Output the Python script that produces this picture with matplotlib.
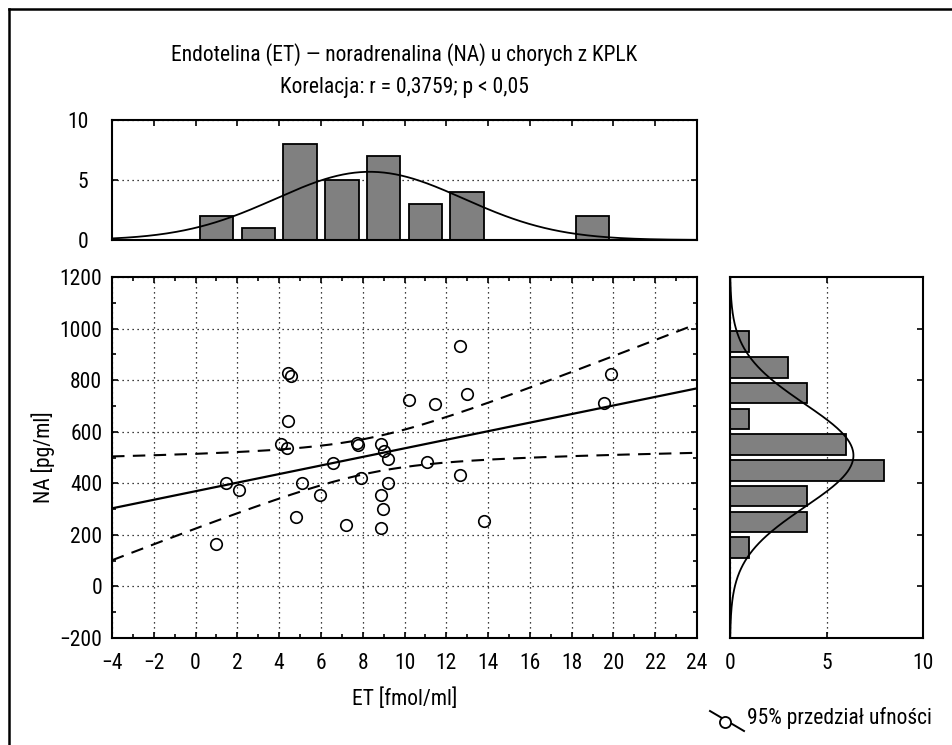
import numpy as np
import matplotlib
matplotlib.use("Agg")
import matplotlib.pyplot as plt
from matplotlib.lines import Line2D
from matplotlib.ticker import MultipleLocator
from matplotlib import font_manager as fm

# ---------------- data ----------------
et = [1.0, 1.45, 2.09, 4.09, 4.36, 4.4, 4.4, 4.58, 4.8, 5.09, 5.96, 6.56,
      7.2, 7.71, 7.76, 7.9, 8.88, 9.04, 9.2, 9.22, 8.88, 8.99, 8.88, 10.2,
      11.44, 11.07, 12.68, 13.0, 12.68, 13.79, 19.54, 19.9]
na = [164, 403, 373, 552, 538, 643, 826, 815, 269, 403, 354, 478,
      238, 557, 549, 422, 552, 527, 493, 403, 354, 301, 225, 724,
      707, 484, 932, 746, 432, 254, 710, 823]
et_bin_edges = [-4, -2, 0, 2, 4, 6, 8, 10, 12, 14, 16, 18, 20, 22, 24]
na_bin_edges = [0, 100, 200, 300, 400, 500, 600, 700, 800, 900, 1000, 1100]
t_crit = 2.042  # t(0.975, df=30)

title1 = "Endotelina (ET) — noradrenalina (NA) u chorych z KPLK"
title2 = "Korelacja: r = 0,3759; p < 0,05"
xlabel = "ET [fmol/ml]"
ylabel = "NA [pg/ml]"
legend_text = "95% przedział ufności"

# ---------- font choice: prefer a condensed sans ----------
fams = {f.name for f in fm.fontManager.ttflist}
cond = [f for f in fm.fontManager.ttflist
        if str(f.stretch) in ('condensed', 'semi-condensed', '75', '87.5')
        and ('Sans' in f.name or 'Roboto' in f.name or 'Lato' in f.name)]
FS = 15.5
chosen = None
for nm in ['Liberation Sans Narrow', 'Roboto Condensed', 'Open Sans Condensed',
           'DejaVu Sans Condensed', 'Noto Sans Condensed', 'Arial Narrow']:
    if nm in fams:
        chosen = nm
        break
if chosen:
    plt.rcParams['font.family'] = [chosen, 'DejaVu Sans']
elif cond:
    plt.rcParams['font.family'] = [cond[0].name, 'DejaVu Sans']
    plt.rcParams['font.stretch'] = 'condensed'
else:
    plt.rcParams['font.family'] = ['Liberation Sans', 'DejaVu Sans']
    FS = 13.5

et = np.array(et)
na = np.array(na)

W, H = 952, 745
fig = plt.figure(figsize=(W / 100, H / 100), dpi=100)

def ax_px(l, t, r, b):
    return fig.add_axes([l / W, 1 - b / H, (r - l) / W, (b - t) / H])

GRAY = '#808080'
DOT = (0, (1, 3))

# ---------- scatter ----------
ax = ax_px(112, 277, 697, 638)
ax.xaxis.set_major_locator(MultipleLocator(2))
ax.xaxis.set_minor_locator(MultipleLocator(1))
ax.yaxis.set_major_locator(MultipleLocator(200))
ax.yaxis.set_minor_locator(MultipleLocator(100))
ax.grid(True, which='major', linestyle=DOT, color='black', linewidth=0.9)
ax.tick_params(which='both', direction='in', top=True, right=True, labelsize=FS, width=1.2)
ax.tick_params(which='major', length=4)
ax.tick_params(which='minor', length=3)
ax.tick_params(axis='x', pad=11)
ax.tick_params(axis='y', pad=7)
ax.set_axisbelow(True)
for s in ax.spines.values():
    s.set_linewidth(1.5)

# regression + confidence band
slope, intercept = np.polyfit(et, na, 1)
xs = np.linspace(-4, 24, 200)
yfit = intercept + slope * xs
n = len(et)
resid = na - (intercept + slope * et)
s = np.sqrt(np.sum(resid ** 2) / (n - 2))
sxx = np.sum((et - et.mean()) ** 2)
half = t_crit * s * np.sqrt(1 / n + (xs - et.mean()) ** 2 / sxx)
ax.plot(xs, yfit, color='black', lw=1.6)
ax.plot(xs, yfit + half, color='black', lw=1.5, linestyle=(0, (6, 4)))
ax.plot(xs, yfit - half, color='black', lw=1.5, linestyle=(0, (6, 4)))
ax.plot(et, na, linestyle='none', marker='o', ms=8.3, mfc='none', mec='black', mew=1.2)
ax.set_xlim(-4, 24)
ax.set_ylim(-200, 1200)

ax.set_xlabel(xlabel, fontsize=FS, labelpad=10)
ax.set_ylabel(ylabel, fontsize=FS, labelpad=3)

# ---------- top histogram ----------
axt = ax_px(112, 120, 697, 240)
counts_et, _ = np.histogram(et, bins=et_bin_edges)
centers_et = (np.array(et_bin_edges[:-1]) + np.array(et_bin_edges[1:])) / 2
nz = counts_et > 0
axt.bar(centers_et[nz], counts_et[nz], width=1.6, color=GRAY, edgecolor='black', linewidth=1.3, zorder=2)
bw = 2
g = np.linspace(-4, 24, 300)
mu, sd = et.mean(), et.std(ddof=1)
axt.plot(g, n * bw * np.exp(-0.5 * ((g - mu) / sd) ** 2) / (sd * np.sqrt(2 * np.pi)),
         color='black', lw=1.3, zorder=3)
axt.set_xlim(-4, 24)
axt.set_ylim(0, 10)
axt.set_yticks([0, 5, 10])
axt.yaxis.grid(True, linestyle=DOT, color='black', linewidth=0.9)
axt.set_axisbelow(True)
axt.xaxis.set_major_locator(MultipleLocator(2))
axt.tick_params(axis='x', direction='in', top=True, bottom=False, labelbottom=False, length=4, width=1.2)
axt.tick_params(axis='y', direction='in', right=True, length=4, width=1.2, labelsize=FS, pad=17)
for s_ in axt.spines.values():
    s_.set_linewidth(1.5)

# ---------- right histogram ----------
axr = ax_px(730, 277, 923, 638)
counts_na, _ = np.histogram(na, bins=na_bin_edges)
centers_na = (np.array(na_bin_edges[:-1]) + np.array(na_bin_edges[1:])) / 2
nz = counts_na > 0
axr.barh(centers_na[nz], counts_na[nz], height=80, color=GRAY, edgecolor='black', linewidth=1.3, zorder=2)
bwn = 100
gy = np.linspace(-200, 1200, 400)
mun, sdn = na.mean(), na.std(ddof=1)
axr.plot(n * bwn * np.exp(-0.5 * ((gy - mun) / sdn) ** 2) / (sdn * np.sqrt(2 * np.pi)), gy,
         color='black', lw=1.3, zorder=3)
axr.set_ylim(-200, 1200)
axr.set_xlim(0, 10)
axr.set_xticks([0, 5, 10])
axr.xaxis.grid(True, linestyle=DOT, color='black', linewidth=0.9)
axr.set_axisbelow(True)
axr.yaxis.set_major_locator(MultipleLocator(200))
axr.tick_params(axis='y', direction='in', right=True, left=False, labelleft=False, length=4, width=1.2)
axr.tick_params(axis='x', direction='in', top=True, length=4, width=1.2, labelsize=FS, pad=11)
for s_ in axr.spines.values():
    s_.set_linewidth(1.5)

# ---------- titles ----------
cx = (112 + 697) / 2 / W
fig.text(cx, 1 - 55 / H, title1, ha='center', va='center', fontsize=FS)
fig.text(cx, 1 - 87 / H, title2, ha='center', va='center', fontsize=FS)

# ---------- frame corner ----------
fig.add_artist(Line2D([9 / W, 1], [1 - 9 / H, 1 - 9 / H], color='black', lw=1.8))
fig.add_artist(Line2D([9 / W, 9 / W], [0, 1 - 9 / H], color='black', lw=1.8))

# ---------- legend ----------
fig.add_artist(Line2D([710 / W, 744 / W], [1 - 711 / H, 1 - 731 / H], color='black', lw=1.4))
fig.add_artist(Line2D([725 / W], [1 - 722 / H], marker='o', ms=8, mfc='white', mec='black', mew=1.3))
fig.text(747 / W, 1 - 718 / H, legend_text, ha='left', va='center', fontsize=FS)

fig.savefig("out.png", dpi=100)
